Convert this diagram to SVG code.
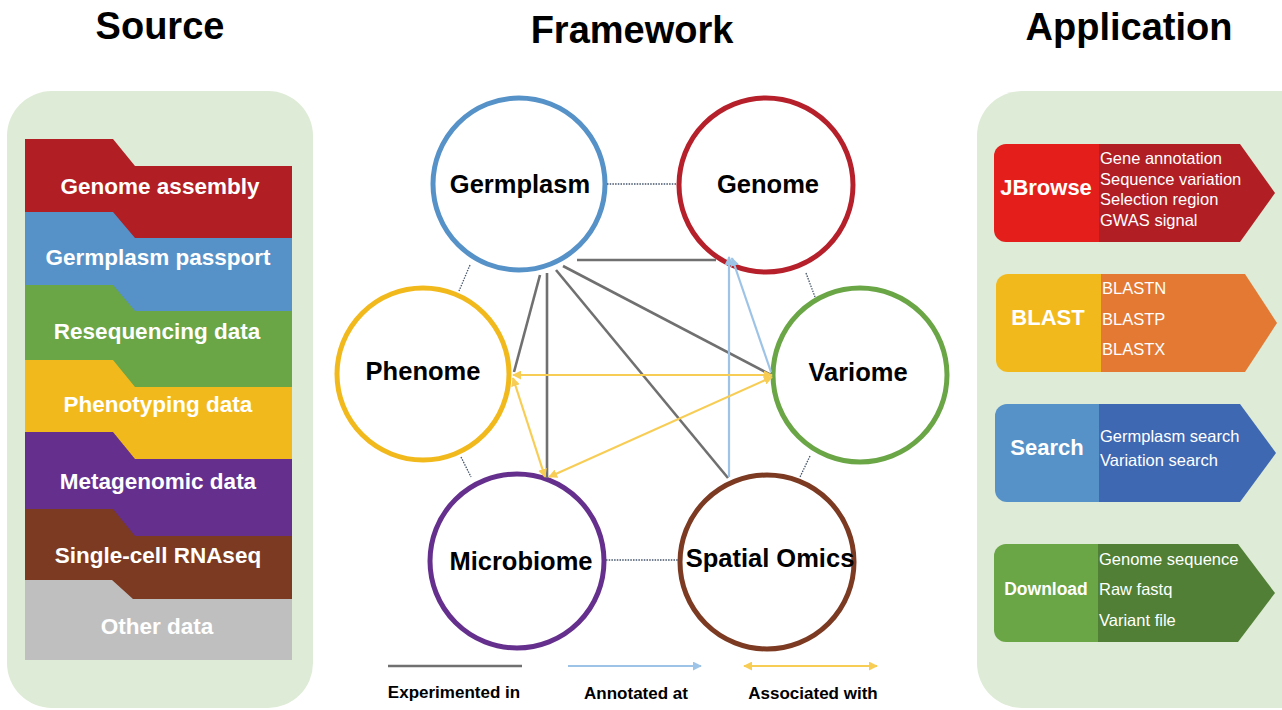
<svg xmlns="http://www.w3.org/2000/svg" width="1282" height="710" viewBox="0 0 1282 710">
  <style>
    .title { font-family: "Liberation Sans", Arial, sans-serif; font-weight: bold; font-size: 38px; fill: #000; text-anchor: middle; }
    .band-label { font-family: "Liberation Sans", Arial, sans-serif; font-weight: bold; font-size: 22.5px; fill: #fff; text-anchor: middle; }
    .node-label { font-family: "Liberation Sans", Arial, sans-serif; font-weight: bold; font-size: 25.5px; fill: #000; text-anchor: middle; }
    .ring { fill: #fff; stroke-width: 5; }
    .app-head { font-family: "Liberation Sans", Arial, sans-serif; font-weight: bold; font-size: 22px; fill: #fff; text-anchor: middle; }
    .app-item { font-family: "Liberation Sans", Arial, sans-serif; font-size: 16.5px; fill: #fff; }
    .legend-label { font-family: "Liberation Sans", Arial, sans-serif; font-weight: bold; font-size: 17px; fill: #000; text-anchor: middle; }
    .dotted { stroke: #44546a; stroke-width: 1.3; stroke-dasharray: 1.5 1.2; fill: none; }
    .exp { stroke: #707070; stroke-width: 2.6; fill: none; }
    .ann { stroke: #9dc3e6; stroke-width: 2.2; fill: none; marker-end: url(#arrow-blue); }
    .assoc { stroke: #f8cd55; stroke-width: 2.2; fill: none; marker-start: url(#arrow-yellow); marker-end: url(#arrow-yellow); }
    .panel { fill: #deebd6; }
  </style>
  <defs>
    <marker id="arrow-blue" viewBox="0 0 10 10" refX="9" refY="5" markerWidth="9" markerHeight="9" markerUnits="userSpaceOnUse" orient="auto-start-reverse">
      <path d="M0,0 L10,5 L0,10 z" fill="#9dc3e6"/>
    </marker>
    <marker id="arrow-yellow" viewBox="0 0 10 10" refX="9" refY="5" markerWidth="9" markerHeight="9" markerUnits="userSpaceOnUse" orient="auto-start-reverse">
      <path d="M0,0 L10,5 L0,10 z" fill="#f8cd55"/>
    </marker>
  </defs>

  <rect width="1282" height="710" fill="#fff"/>

  <!-- Column headings -->
  <text class="title" x="160" y="39">Source</text>
  <text class="title" x="632" y="43">Framework</text>
  <text class="title" x="1129" y="40">Application</text>

  <!-- Source column -->
  <g id="source">
    <rect class="panel" x="7" y="91" width="306" height="617" rx="45" ry="45"/>
    <g id="src-genome-assembly">
      <polygon points="25,139 113,139 135,166 292,166 292,660 25,660" fill="#b11e24"/>
      <text class="band-label" x="160" y="194">Genome assembly</text>
    </g>
    <g id="src-germplasm-passport">
      <polygon points="25,212 113,212 135,238 292,238 292,660 25,660" fill="#5692c8"/>
      <text class="band-label" x="158" y="265">Germplasm passport</text>
    </g>
    <g id="src-resequencing">
      <polygon points="25,285 113,285 135,311 292,311 292,660 25,660" fill="#6aa546"/>
      <text class="band-label" x="157" y="339">Resequencing data</text>
    </g>
    <g id="src-phenotyping">
      <polygon points="25,360 113,360 135,387 292,387 292,660 25,660" fill="#f2b91c"/>
      <text class="band-label" x="158" y="412">Phenotyping data</text>
    </g>
    <g id="src-metagenomic">
      <polygon points="25,432 113,432 135,459 292,459 292,660 25,660" fill="#65308d"/>
      <text class="band-label" x="158" y="489">Metagenomic data</text>
    </g>
    <g id="src-single-cell">
      <polygon points="25,509 113,509 135,536 292,536 292,660 25,660" fill="#7b3a21"/>
      <text class="band-label" x="158" y="563">Single-cell RNAseq</text>
    </g>
    <g id="src-other">
      <polygon points="25,580 112,580 133,599 292,599 292,660 25,660" fill="#bfbfbf"/>
      <text class="band-label" x="157" y="634">Other data</text>
    </g>
  </g>

  <!-- Framework rings -->
  <g id="germplasm">
    <circle class="ring" cx="519" cy="184" r="86" stroke="#5692c8"/>
    <text class="node-label" x="520" y="193">Germplasm</text>
  </g>
  <g id="genome">
    <circle class="ring" cx="766" cy="185" r="87" stroke="#b5202a"/>
    <text class="node-label" x="768" y="193">Genome</text>
  </g>
  <g id="phenome">
    <circle class="ring" cx="423" cy="374" r="86" stroke="#f2b91c"/>
    <text class="node-label" x="423" y="380">Phenome</text>
  </g>
  <g id="variome">
    <circle class="ring" cx="860" cy="375" r="87" stroke="#6aa546"/>
    <text class="node-label" x="858" y="381">Variome</text>
  </g>
  <g id="microbiome">
    <circle class="ring" cx="517" cy="561" r="87" stroke="#65308d"/>
    <text class="node-label" x="521" y="570">Microbiome</text>
  </g>
  <g id="spatial-omics">
    <circle class="ring" cx="767" cy="562" r="87" stroke="#7b3a21"/>
    <text class="node-label" x="770" y="567">Spatial Omics</text>
  </g>

  <!-- Framework connectors -->
  <g id="connectors">
    <!-- neighbouring rings -->
    <line class="dotted" x1="607" y1="184" x2="677" y2="184"/>
    <line class="dotted" x1="470" y1="265" x2="459" y2="291"/>
    <line class="dotted" x1="806" y1="273" x2="815" y2="297"/>
    <line class="dotted" x1="461" y1="457" x2="471" y2="477"/>
    <line class="dotted" x1="810" y1="456" x2="800" y2="477"/>
    <line class="dotted" x1="606" y1="560" x2="680" y2="560"/>

    <!-- experimented in -->
    <line class="exp" x1="577" y1="260" x2="716" y2="260"/>
    <line class="exp" x1="540" y1="275" x2="514" y2="372"/>
    <line class="exp" x1="547" y1="273" x2="547" y2="478"/>
    <line class="exp" x1="556" y1="270" x2="728" y2="478"/>
    <line class="exp" x1="563" y1="266" x2="771" y2="375"/>

    <!-- annotated at -->
    <line class="ann" x1="729" y1="477" x2="729" y2="257"/>
    <line class="ann" x1="771" y1="372" x2="732" y2="258"/>

    <!-- associated with -->
    <line class="assoc" x1="513" y1="375" x2="772" y2="375"/>
    <line class="assoc" x1="513" y1="378" x2="545" y2="477"/>
    <line class="assoc" x1="772" y1="377" x2="549" y2="477"/>
  </g>

  <!-- Legend -->
  <g id="legend">
    <line class="exp" x1="388" y1="666" x2="522" y2="666"/>
    <line class="ann" x1="568" y1="666" x2="701" y2="666"/>
    <line class="assoc" x1="744" y1="666" x2="877" y2="666"/>
    <text class="legend-label" x="454" y="698">Experimented in</text>
    <text class="legend-label" x="636" y="699">Annotated at</text>
    <text class="legend-label" x="813" y="699">Associated with</text>
  </g>

  <!-- Application column -->
  <g id="application">
    <rect class="panel" x="977" y="91" width="350" height="617" rx="45" ry="45"/>
    <g id="app-jbrowse">
      <path d="M1099,144 H1240 L1275,193 L1240,242 H1099 Z" fill="#b11e24"/>
      <path d="M1006,144 H1099 V242 H1006 A12,12 0 0 1 994,230 V156 A12,12 0 0 1 1006,144 Z" fill="#e41f1b"/>
      <text class="app-head" x="1046" y="195">JBrowse</text>
      <text class="app-item" x="1100" y="164">Gene annotation</text>
      <text class="app-item" x="1100" y="185">Sequence variation</text>
      <text class="app-item" x="1100" y="205">Selection region</text>
      <text class="app-item" x="1100" y="226">GWAS signal</text>
    </g>
    <g id="app-blast">
      <path d="M1101,274 H1245 L1277,323 L1245,372 H1101 Z" fill="#e37933"/>
      <path d="M1008,274 H1101 V372 H1008 A12,12 0 0 1 996,360 V286 A12,12 0 0 1 1008,274 Z" fill="#f2b91c"/>
      <text class="app-head" x="1048" y="325">BLAST</text>
      <text class="app-item" x="1102" y="294">BLASTN</text>
      <text class="app-item" x="1102" y="325">BLASTP</text>
      <text class="app-item" x="1102" y="355">BLASTX</text>
    </g>
    <g id="app-search">
      <path d="M1099,404 H1240 L1276,453 L1240,502 H1099 Z" fill="#3f68b2"/>
      <path d="M1007,404 H1099 V502 H1007 A12,12 0 0 1 995,490 V416 A12,12 0 0 1 1007,404 Z" fill="#5692c8"/>
      <text class="app-head" x="1047" y="455">Search</text>
      <text class="app-item" x="1100" y="442">Germplasm search</text>
      <text class="app-item" x="1100" y="466">Variation search</text>
    </g>
    <g id="app-download">
      <path d="M1098,544 H1238 L1275,593 L1238,642 H1098 Z" fill="#507f35"/>
      <path d="M1006,544 H1098 V642 H1006 A12,12 0 0 1 994,630 V556 A12,12 0 0 1 1006,544 Z" fill="#6aa546"/>
      <text class="app-head" x="1046" y="595" style="font-size:17.5px">Download</text>
      <text class="app-item" x="1099" y="565">Genome sequence</text>
      <text class="app-item" x="1099" y="595">Raw fastq</text>
      <text class="app-item" x="1099" y="626">Variant file</text>
    </g>
  </g>
</svg>
